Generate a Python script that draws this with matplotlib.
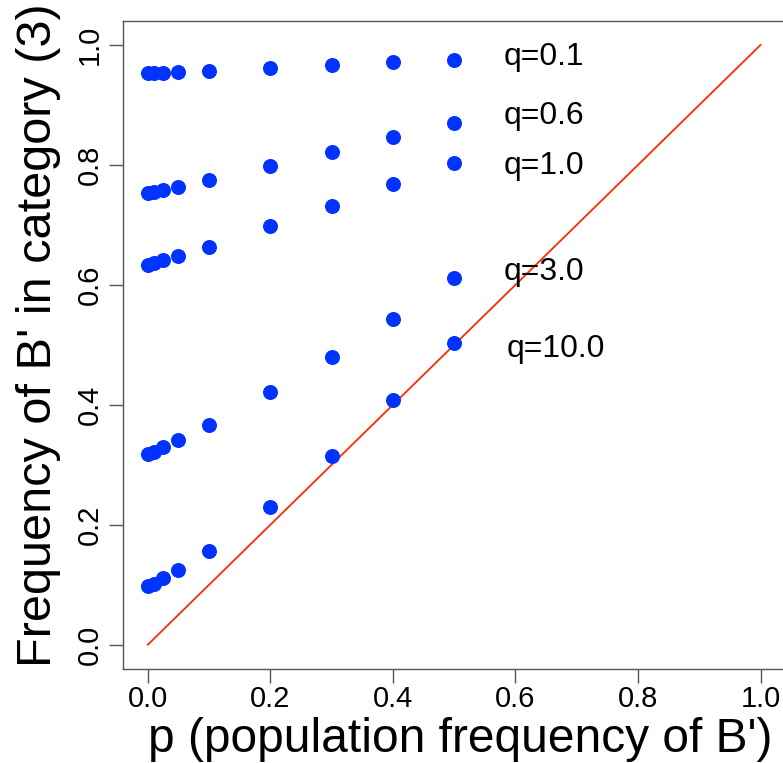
import matplotlib
matplotlib.use("Agg")
import matplotlib.pyplot as plt

plt.rcParams['font.family'] = ['Liberation Sans', 'DejaVu Sans']

p = [0.0, 0.01, 0.025, 0.05, 0.1, 0.2, 0.3, 0.4, 0.5]
q_labels = ["q=0.1", "q=0.6", "q=1.0", "q=3.0", "q=10.0"]
freq_q01 = [0.953, 0.953, 0.954, 0.9545, 0.9567, 0.961, 0.966, 0.971, 0.9755]
freq_q06 = [0.753, 0.755, 0.758, 0.764, 0.775, 0.798, 0.8216, 0.846, 0.870]
freq_q10 = [0.633, 0.636, 0.641, 0.648, 0.6637, 0.6977, 0.732, 0.7677, 0.803]
freq_q30 = [0.3175, 0.321, 0.329, 0.341, 0.3663, 0.4209, 0.480, 0.5436, 0.6115]
freq_q100 = [0.0979, 0.102, 0.1107, 0.1245, 0.156, 0.2296, 0.315, 0.4075, 0.503]
label_x = [0.581, 0.581, 0.581, 0.581, 0.586]
label_y = [0.980, 0.882, 0.798, 0.622, 0.493]
x_ticks = [0.0, 0.2, 0.4, 0.6, 0.8, 1.0]
y_ticks = [0.0, 0.2, 0.4, 0.6, 0.8, 1.0]

fig = plt.figure(figsize=(7.83, 7.63), dpi=100)
ax = fig.add_axes([0.1575, 0.1236, 0.8451, 0.8489])

blue = '#0033FF'
for series in [freq_q01, freq_q06, freq_q10, freq_q30, freq_q100]:
    ax.plot(p, series, linestyle='none', marker='o', markersize=10.8,
            color=blue, markeredgewidth=0, zorder=3)

ax.plot([0, 1], [0, 1], color='#FF2A00', linewidth=1.3, zorder=2)

for lx, ly, lab in zip(label_x, label_y, q_labels):
    ax.text(lx, ly, lab, fontsize=23, ha='left', va='center', color='black')

ax.set_xlim(-0.04, 1.04)
ax.set_ylim(-0.04, 1.04)
ax.set_xticks(x_ticks)
ax.set_yticks(y_ticks)
ax.set_xticklabels([f"{v:.1f}" for v in x_ticks], fontsize=21)
ax.set_yticklabels([f"{v:.1f}" for v in y_ticks], fontsize=21, rotation=90, va='center')
ax.tick_params(axis='both', length=10, width=1, color='#555555')
ax.tick_params(axis='x', pad=2)
ax.tick_params(axis='y', pad=4)

for s in ax.spines.values():
    s.set_color('#555555')
    s.set_linewidth(1.0)

ax.set_xlabel("p (population frequency of B')", fontsize=34.5)
ax.set_ylabel("Frequency of B' in category (3)", fontsize=35)
ax.xaxis.set_label_coords(0.509, -0.074)
ax.yaxis.set_label_coords(-0.094, 0.515)

fig.savefig("out.png", dpi=100)
